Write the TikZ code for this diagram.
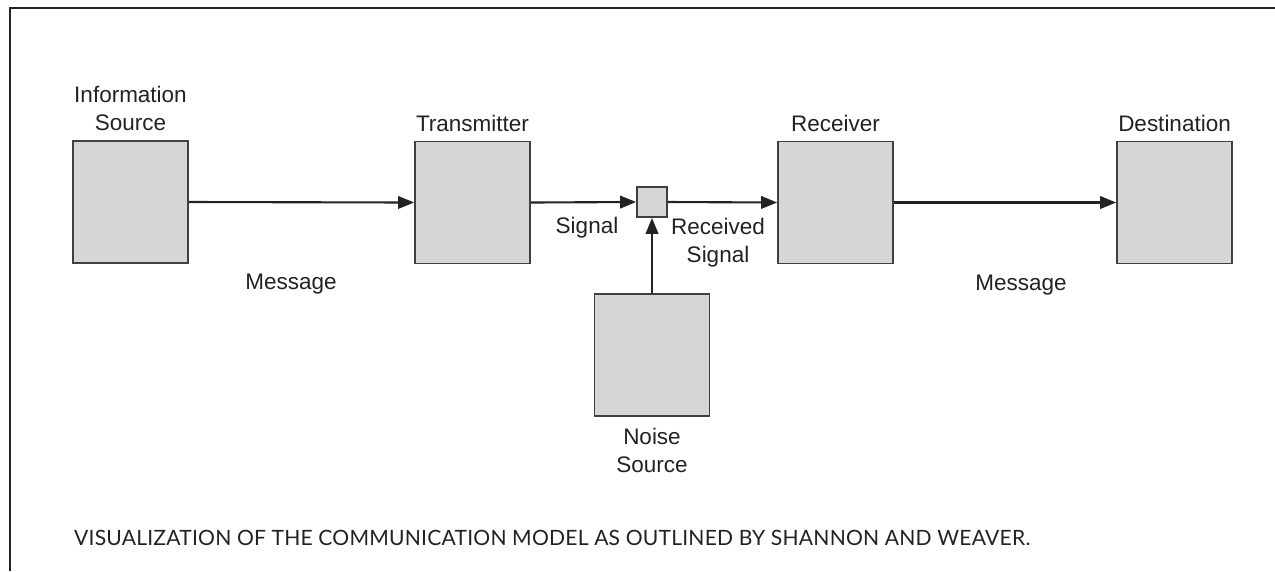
\documentclass[tikz,border=0pt]{standalone}
\usepackage{fontspec}
\setmainfont{Liberation Sans}
\newfontfamily\capfont[LetterSpace=1]{Lato}
\usetikzlibrary{arrows.meta,positioning}
\definecolor{boxgray}{HTML}{D6D6D6}
\definecolor{edgegray}{HTML}{404040}
\definecolor{inkgray}{HTML}{222222}
\begin{document}
\begin{tikzpicture}[
        block/.style={draw=edgegray, fill=boxgray, line width=1pt, minimum width=2.3cm, minimum height=2.44cm, inner sep=0pt},
        mixer/.style={block, minimum width=0.6cm, minimum height=0.6cm},
        flow/.style={-{Triangle[length=0.32cm, width=0.25cm]}, line width=1.2pt, inkgray},
        tag/.style={text=inkgray, align=center, font=\fontsize{12.8}{15.8}\selectfont}
    ]
        \useasboundingbox (0,0) rectangle (25.5,-11.42);
        % frame
        \draw 
            [line width=1.3pt, inkgray] (25.5,-0.16)--(0.2,-0.16)--(0.2,-11.42);
        % blocks
        \node[block] (src) at (2.61,-4.04) {};
        \node[block] (trans) at (9.45,-4.05) {};
        \node[mixer] (chan) at (13.04,-4.04) {};
        \node[block] (recv) at (16.71,-4.05) {};
        \node[block] (dest) at (23.49,-4.05) {};
        \node[block] (noise) at (13.04,-7.10) {};
        % connectors
        \draw 
            [flow] (src.east)--(trans.west);
        \draw 
            [flow] (trans.east)--(chan.west);
        \draw 
            [flow] (chan.east)--(recv.west);
        \draw 
            [flow] (recv.east)--(dest.west);
        \draw 
            [flow] (noise.north)--(chan.south);
        % labels
        \node[tag, above=0.06cm of src] (srclbl) {Information\\Source};
        \node[tag, above=0.06cm of trans] (translbl) {Transmitter};
        \node[tag, above=0.06cm of recv] (recvlbl) {Receiver};
        \node[tag, above=0.06cm of dest] (destlbl) {Destination};
        \node[tag, below=0.1cm of noise] (noiselbl) {Noise\\Source};
        \node[tag] (msg1) at (5.82,-5.68) {Message};
        \node[tag] (msg2) at (20.42,-5.70) {Message};
        \node[tag] (sig) at (11.74,-4.56) {Signal};
        \node[tag] (rsig) at (14.36,-4.86) {Received\\Signal};
        \node[anchor=west, text=inkgray, font=\capfont\fontsize{12}{14}\selectfont] (caption) at (1.36,-10.76) {VISUALIZATION OF THE COMMUNICATION MODEL AS OUTLINED BY SHANNON AND WEAVER.};
    \end{tikzpicture}
\end{document}
